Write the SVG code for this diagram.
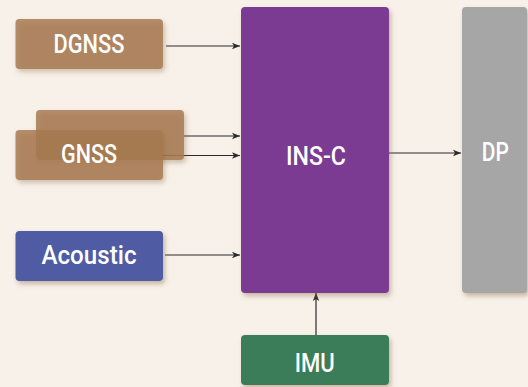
<svg xmlns="http://www.w3.org/2000/svg" width="528" height="387" viewBox="0 0 528 387">
<defs>
<filter id="sh" x="-20%" y="-20%" width="140%" height="140%">
<feDropShadow dx="2" dy="3" stdDeviation="2.5" flood-color="#8a6a45" flood-opacity="0.45"/>
</filter>
<marker id="ah" viewBox="0 0 10 10" refX="10" refY="5" markerWidth="8" markerHeight="8" markerUnits="userSpaceOnUse" orient="auto">
<path d="M0,1 L10,5 L0,9 L2.5,5 Z" fill="#2b2b2b"/>
</marker>
</defs>
<style>
.bg{fill:#f8f1ea}
.box{filter:url(#sh)}
.brown{fill:#a77a50;fill-opacity:0.83}
.lbl{font-family:Roboto,"Liberation Sans",sans-serif;font-size:26px;font-weight:500;fill:#ffffff;text-anchor:middle}
.edge{stroke:#2b2b2b;stroke-width:1.2;fill:none;marker-end:url(#ah)}
</style>
<rect class="bg" x="0" y="0" width="528" height="387"/>
<g id="connectors">
<line class="edge" x1="166" y1="46" x2="240" y2="46"/>
<line class="edge" x1="184" y1="136" x2="240" y2="136"/>
<line class="edge" x1="163" y1="155.5" x2="240" y2="155.5"/>
<line class="edge" x1="165" y1="255" x2="240" y2="255"/>
<line class="edge" x1="389" y1="153" x2="461" y2="153"/>
<line class="edge" x1="316" y1="335" x2="316" y2="293"/>
</g>
<g id="node-dgnss">
<rect class="box brown" x="15.5" y="19" width="147.5" height="50" rx="4"/>
<text class="lbl" x="89" y="52.7" textLength="71" lengthAdjust="spacingAndGlyphs">DGNSS</text>
</g>
<g id="node-gnss">
<rect class="box brown" x="36" y="110" width="148" height="50" rx="4"/>
<rect class="box brown" x="15.5" y="130" width="147.5" height="50" rx="4"/>
<text class="lbl" x="89" y="163.3" textLength="56" lengthAdjust="spacingAndGlyphs">GNSS</text>
</g>
<g id="node-acoustic">
<rect class="box" x="15.5" y="231" width="147.5" height="50" rx="4" fill="#4f5ba3"/>
<text class="lbl" x="89" y="264" textLength="95" lengthAdjust="spacingAndGlyphs">Acoustic</text>
</g>
<g id="node-insc">
<rect class="box" x="241" y="7" width="148" height="286" rx="4" fill="#7b3b93"/>
<text class="lbl" x="316" y="165" textLength="60" lengthAdjust="spacingAndGlyphs">INS-C</text>
</g>
<g id="node-dp">
<rect class="box" x="462" y="7" width="65" height="286" rx="4" fill="#a6a6a6"/>
<text class="lbl" x="495.3" y="160.5" textLength="27" lengthAdjust="spacingAndGlyphs">DP</text>
</g>
<g id="node-imu">
<rect class="box" x="241" y="335" width="148" height="50" rx="4" fill="#3b7d59"/>
<text class="lbl" x="314.7" y="371.7" textLength="40" lengthAdjust="spacingAndGlyphs">IMU</text>
</g>
</svg>
